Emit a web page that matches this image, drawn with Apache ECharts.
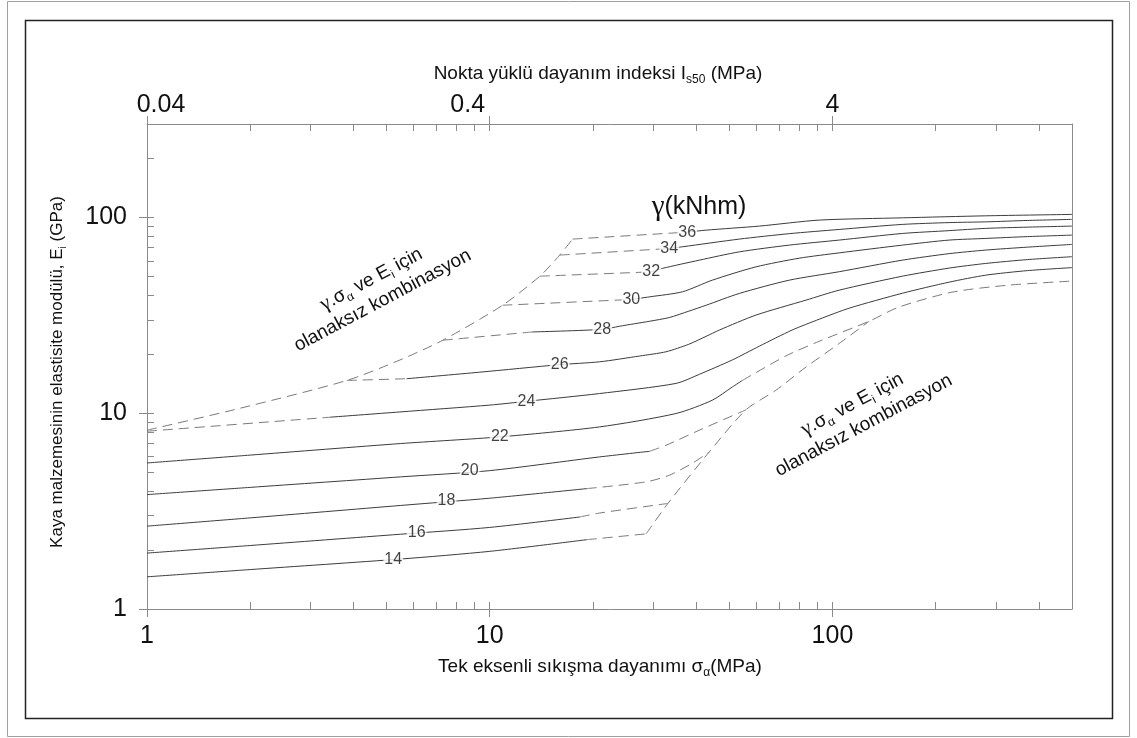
<!DOCTYPE html>
<html><head><meta charset="utf-8">
<script src="https://cdn.jsdelivr.net/npm/echarts@6/dist/echarts.min.js"></script>
<style>html,body{margin:0;padding:0;background:#fff}#c{width:1137px;height:738px}</style>
</head><body><div id="c"></div>
<script>
// ---- axis ticks / labels ----
const xMajorTicks = [1, 10, 100];
const xMinorTicks = [2,3,4,5,6,7,8,9,20,30,40,50,60,70,80,90,200,300,400];
const yMajorTicks = [1, 10, 100];
const yMinorTicks = [2,3,4,5,6,7,8,9,20,30,40,50,60,70,80,90,200];
const bottomTickLabels = ['1', '10', '100'];
const topTickLabels = ['0.04', '0.4', '4'];
const leftTickLabels = ['1', '10', '100'];

// ---- curves: [sigma_c (MPa), Ei (GPa)] ----
const gammaValues = [14,16,18,20,22,24,26,28,30,32,34,36];
const c14Solid = [[1,1.46],[2,1.59],[5.5,1.80],[10,1.97],[19.2,2.26]];
const c14Dash  = [[19.2,2.26],[28.6,2.42]];
const c16Solid = [[1,1.93],[2,2.11],[5.5,2.41],[10,2.61],[18.3,2.95]];
const c16Dash  = [[18.3,2.95],[20.9,3.09],[33.1,3.46]];
const c18Solid = [[1,2.65],[2,2.92],[5.5,3.38],[10,3.68],[19.2,4.12]];
const c18Dash  = [[19.2,4.12],[28.6,4.46],[33.4,4.82],[39.0,5.55],[43.7,6.34]];
const c20Solid = [[1,3.84],[2,4.18],[5.5,4.73],[10,5.09],[20.9,5.98],[29.3,6.39]];
const c20Dash  = [[29.3,6.39],[32.7,6.86],[40.9,8.19],[55.9,10.4]];
const c22Solid = [[1,5.57],[2,6.11],[5.5,7.0],[10.7,7.57],[20.9,8.51],[35,9.97],[44.6,11.65],[51,13.6],[54.6,14.7]];
const c22Dash  = [[54.6,14.7],[73.1,19.6],[91.5,23.3],[128,29.5],[156,34.8],[223,41.5],[327,45.1],[500,47.3]];
const c24Dash  = [[1,8.09],[3.42,9.54]];
const c24Solid = [[3.42,9.54],[5.47,10.15],[10,11.0],[12.8,11.5],[20.9,12.6],[35,14.2],[40.9,15.8],[51,18.7],[61.2,22.0],[76.3,26.6],[91.5,30.2],[112,34.4],[160,41.0],[219,46.7],[280,50.7],[371,53.5],[500,55.4]];
const c26Dash  = [[3.83,14.7],[5.72,15.0]];
const c26Solid = [[5.72,15.0],[9.35,16.2],[16.0,17.7],[20.9,18.3],[27.4,19.6],[32.7,20.6],[38.1,22.5],[42.8,24.7],[46.8,26.6],[59.8,31.7],[83.7,37.8],[104.6,42.5],[160,50.1],[219,55.1],[280,58.2],[371,60.9],[500,63.0]];
const c28Dash  = [[7.30,23.6],[13.3,26.0]];
const c28Solid = [[13.3,26.0],[21.3,26.8],[23.9,27.8],[29.3,29.5],[33.4,30.8],[38.1,33.2],[42.8,35.6],[53.5,40.9],[74.8,47.8],[104.6,52.8],[160,60.5],[219,65.3],[280,68.1],[371,70.5],[500,72.8]];
const c30Dash  = [[10.9,35.6],[25.9,38.1]];
const c30Solid = [[25.9,38.1],[29.3,39.3],[36.5,41.7],[44.6,47.8],[59.8,55.9],[80,61.9],[104.6,65.9],[160,72.2],[219,76.6],[280,78.1],[371,79.8],[500,81.2]];
const c32Dash  = [[14.0,50.1],[29.6,52.7]];
const c32Solid = [[29.6,52.7],[31.9,54.9],[40.9,60.5],[53.5,66.7],[74.8,72.2],[104.6,76.6],[160,82.8],[219,85.6],[280,87.9],[371,89.2],[500,90.3]];
const c34Dash  = [[16.0,64.2],[33.4,69.4]];
const c34Solid = [[33.4,69.4],[36.5,70.8],[53.5,77.5],[74.8,82.6],[104.6,86.8],[160,92.1],[219,94.1],[280,94.9],[371,96.5],[500,97.7]];
const c36Dash  = [[17.45,77.5],[37.7,84.1]];
const c36Solid = [[37.7,84.1],[42.8,86.1],[61.2,90.3],[91.5,96.9],[160,99.5],[280,101.9],[500,103.6]];
// boundaries of impossible combinations
const upperBoundary = [[1,8.19],[1.87,10.6],[3.83,14.7],[5.47,18.7],[7.30,23.6],[10.9,35.6],[14.0,50.1],[16.0,64.2],[17.45,77.5]];
const lowerBoundary = [[28.6,2.42],[33.1,3.46],[43.7,6.34],[55.9,10.4],[68.4,13.1],[83.7,17.2],[104.6,22.7],[128,29.5]];
// label anchor for each gamma curve
const gammaLabelPos = [[5.23,1.79],[6.12,2.46],[7.48,3.57],[8.74,5.11],[10.7,7.57],[12.8,11.5],[16.0,17.7],[21.3,26.8],[25.9,38.1],[29.6,52.7],[33.4,69.4],[37.7,84.1]];

const solidSegs = [c14Solid,c16Solid,c18Solid,c20Solid,c22Solid,c24Solid,c26Solid,c28Solid,c30Solid,c32Solid,c34Solid,c36Solid];
const dashSegs = [c14Dash,c16Dash,c18Dash,c20Dash,c22Dash,c24Dash,c26Dash,c28Dash,c30Dash,c32Dash,c34Dash,c36Dash,upperBoundary,lowerBoundary];

const FONT = 'Liberation Sans, Arial, sans-serif';
const chart = echarts.init(document.getElementById('c'), null, {renderer:'canvas'});
const axisGray = '#8a8a8a';

function lineSeries(data, dashed) {
  return {
    type: 'line', data: data, xAxisIndex: 0, yAxisIndex: 0,
    symbol: 'none', smooth: 0.25, silent: true,
    lineStyle: dashed ? {color: '#7a7a7a', width: 1, type: [10, 6]} : {color: '#3c3c3c', width: 1},
    z: 3
  };
}
const series = [];
solidSegs.forEach(s => series.push(lineSeries(s, false)));
dashSegs.forEach(s => series.push(lineSeries(s, true)));
series.push({
  type: 'scatter', xAxisIndex: 0, yAxisIndex: 0, symbolSize: 1, silent: true,
  itemStyle: {color: 'rgba(0,0,0,0)'}, z: 5,
  data: gammaLabelPos.map((p, i) => [p[0], p[1], gammaValues[i]]),
  label: {show: true, position: 'inside', formatter: p => String(p.value[2]),
    fontFamily: FONT, fontSize: 16, color: '#111', backgroundColor: '#fff', padding: [0, 1]}
});

function baseAxis(extra) {
  return Object.assign({
    type: 'log', logBase: 10, min: 1,
    axisLine: {show: false}, splitLine: {show: false}, minorTick: {show: false},
    axisLabel: {show: false}, axisTick: {show: false}
  }, extra);
}
const labelFont = {fontFamily: FONT, fontSize: 25, color: '#111'};
// small horizontal nudges of the top labels, as in the original figure
const topLabelRich = {
  l: {fontFamily: FONT, fontSize: 25, color: '#111', padding: [0, 0, 0, 28]},
  m: {fontFamily: FONT, fontSize: 25, color: '#111', padding: [0, 44, 0, 0]},
  r: {fontFamily: FONT, fontSize: 25, color: '#111'}
};
const topLabelKeys = ['l', 'm', 'r'];

const option = {
  animation: false,
  backgroundColor: '#fff',
  grid: {left: 147, top: 124, width: 925, height: 485, containLabel: false},
  xAxis: [
    baseAxis({max: 500, position: 'bottom',
      axisLine: {show: true, onZero: false, lineStyle: {color: axisGray, width: 1}},
      axisTick: {show: true, customValues: xMajorTicks, length: 8, lineStyle: {color: axisGray}},
      axisLabel: Object.assign({show: true, customValues: xMajorTicks, margin: 15,
        formatter: v => bottomTickLabels[xMajorTicks.indexOf(Math.round(v))] || ''}, labelFont)}),
    baseAxis({max: 500, position: 'top',
      axisLine: {show: true, onZero: false, lineStyle: {color: axisGray, width: 1}},
      axisTick: {show: true, customValues: xMajorTicks, length: 8, lineStyle: {color: axisGray}},
      axisLabel: Object.assign({show: true, customValues: xMajorTicks, margin: 6, rich: topLabelRich,
        formatter: v => {
          const i = xMajorTicks.indexOf(Math.round(v));
          return i < 0 ? '' : '{' + topLabelKeys[i] + '|' + topTickLabels[i] + '}';
        }}, labelFont)}),
    baseAxis({max: 500, position: 'bottom',
      axisTick: {show: true, inside: true, customValues: xMajorTicks.concat(xMinorTicks), length: 7, lineStyle: {color: axisGray}}}),
    baseAxis({max: 500, position: 'top',
      axisTick: {show: true, inside: true, customValues: xMajorTicks.concat(xMinorTicks), length: 7, lineStyle: {color: axisGray}}})
  ],
  yAxis: [
    baseAxis({max: 300, position: 'left',
      axisLine: {show: true, onZero: false, lineStyle: {color: axisGray, width: 1}},
      axisTick: {show: true, customValues: yMajorTicks, length: 8, lineStyle: {color: axisGray}},
      axisLabel: Object.assign({show: true, customValues: yMajorTicks, margin: 20,
        formatter: v => leftTickLabels[yMajorTicks.indexOf(Math.round(v))] || ''}, labelFont)}),
    baseAxis({max: 300, position: 'right',
      axisLine: {show: true, onZero: false, lineStyle: {color: axisGray, width: 1}}}),
    baseAxis({max: 300, position: 'left',
      axisTick: {show: true, inside: true, customValues: yMajorTicks.concat(yMinorTicks), length: 7, lineStyle: {color: axisGray}}})
  ],
  series: series,
  graphic: [
    {type: 'rect', silent: true, shape: {x: 7.5, y: 1.5, width: 1122, height: 735}, style: {fill: 'none', stroke: '#a0a0a0', lineWidth: 1}},
    {type: 'rect', silent: true, shape: {x: 25.5, y: 20.5, width: 1087, height: 698}, style: {fill: 'none', stroke: '#222', lineWidth: 1.5}},
    {type: 'text', silent: true, x: 598, y: 74, style: {
      text: '{b|Nokta yüklü dayanım indeksi I}{s|s50}{b| (MPa)}', align: 'center', verticalAlign: 'middle',
      rich: {b: {fontFamily: FONT, fontSize: 19, lineHeight: 24, fill: '#111'}, s: {fontFamily: FONT, fontSize: 12, lineHeight: 14, verticalAlign: 'bottom', fill: '#111'}}}},
    {type: 'text', silent: true, x: 600, y: 667, style: {
      text: '{b|Tek eksenli sıkışma dayanımı σ}{s|α}{b|(MPa)}', align: 'center', verticalAlign: 'middle',
      rich: {b: {fontFamily: FONT, fontSize: 19, lineHeight: 24, fill: '#111'}, s: {fontFamily: FONT, fontSize: 12, lineHeight: 14, verticalAlign: 'bottom', fill: '#111'}}}},
    {type: 'text', silent: true, x: 57, y: 372, rotation: Math.PI / 2, style: {
      text: '{b|Kaya malzemesinin elastisite modülü, E}{s|i}{b| (GPa)}', align: 'center', verticalAlign: 'middle',
      rich: {b: {fontFamily: FONT, fontSize: 17, lineHeight: 22, fill: '#111'}, s: {fontFamily: FONT, fontSize: 10, lineHeight: 12, verticalAlign: 'bottom', fill: '#111'}}}},
    {type: 'text', silent: true, x: 699, y: 207, style: {
      text: '{g|γ}{b|(kNhm)}', align: 'center', verticalAlign: 'middle',
      rich: {g: {fontFamily: 'Liberation Serif, serif', fontSize: 29, fill: '#111'}, b: {fontFamily: FONT, fontSize: 25, fill: '#111'}}}},
    {type: 'text', silent: true, x: 377, y: 290, rotation: 28 * Math.PI / 180, style: {
      text: '{g|γ}{b|.σ}{s|α}{b| ve E}{s|i}{b| için}\n{b|olanaksız kombinasyon}', align: 'center', verticalAlign: 'middle',
      rich: {g: {fontFamily: 'Liberation Serif, serif', fontSize: 21, lineHeight: 24, fill: '#111'}, b: {fontFamily: FONT, fontSize: 19, lineHeight: 24, fill: '#111'}, s: {fontFamily: FONT, fontSize: 12, lineHeight: 14, verticalAlign: 'bottom', fill: '#111'}}}},
    {type: 'text', silent: true, x: 858, y: 415, rotation: 28 * Math.PI / 180, style: {
      text: '{g|γ}{b|.σ}{s|α}{b| ve E}{s|i}{b| için}\n{b|olanaksız kombinasyon}', align: 'center', verticalAlign: 'middle',
      rich: {g: {fontFamily: 'Liberation Serif, serif', fontSize: 21, lineHeight: 24, fill: '#111'}, b: {fontFamily: FONT, fontSize: 19, lineHeight: 24, fill: '#111'}, s: {fontFamily: FONT, fontSize: 12, lineHeight: 14, verticalAlign: 'bottom', fill: '#111'}}}}
  ]
};
chart.setOption(option);
</script>
</body></html>
